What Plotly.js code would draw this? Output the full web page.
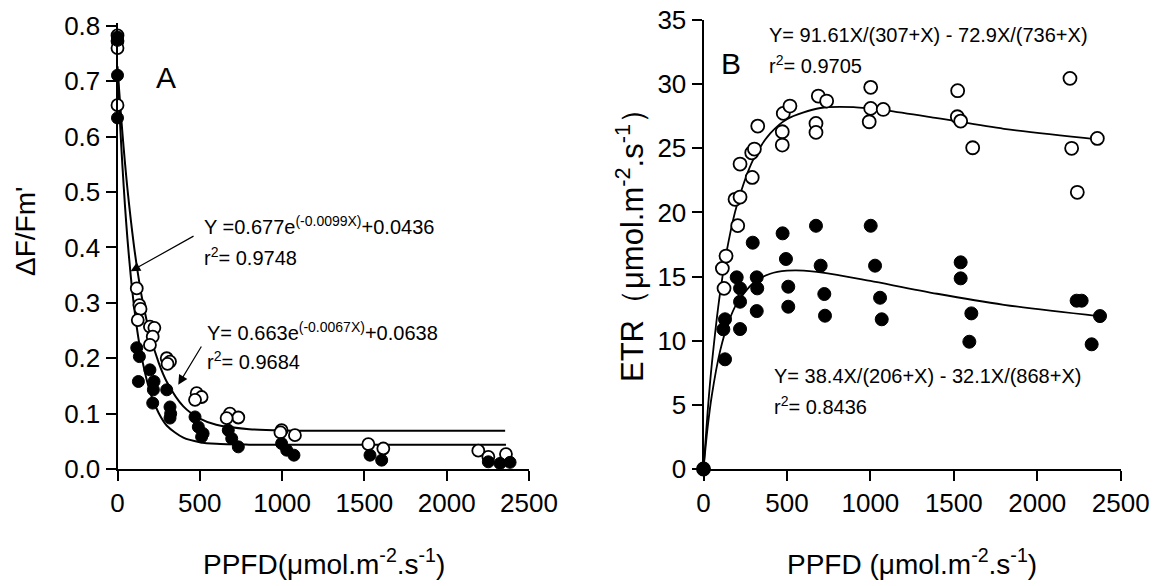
<!DOCTYPE html>
<html><head><meta charset="utf-8">
<script src="https://cdn.plot.ly/plotly-3.0.1.min.js"></script>
<style>html,body{margin:0;padding:0;background:#fff}#chart{width:1161px;height:586px}</style>
</head><body><div id="chart"></div>
<script>
// ---------- Panel A : deltaF/Fm' vs PPFD ----------
const aOpenX = [0,0,0,0, 117,133,140,123, 197,224,214,197, 299,319,304, 481,511,471, 683,734,663, 997,1078,990, 1524,1615, 2192,2253,2360];
const aOpenY = [0.783,0.773,0.76,0.657, 0.326,0.296,0.289,0.269, 0.257,0.255,0.239,0.224, 0.2,0.194,0.19, 0.137,0.13,0.125, 0.1,0.093,0.092, 0.07,0.061,0.066, 0.045,0.037, 0.033,0.022,0.027];
const aFillX = [0,0,0,0, 117,133,127, 197,222,218,214, 299,319,323,319, 471,491,511,520, 673,694,734, 997,1028,1072, 1534,1605, 2253,2324,2385];
const aFillY = [0.78,0.774,0.711,0.634, 0.219,0.203,0.158, 0.179,0.158,0.143,0.119, 0.143,0.112,0.1,0.092, 0.094,0.076,0.058,0.064, 0.07,0.055,0.04, 0.046,0.034,0.025, 0.025,0.016, 0.013,0.01,0.012];
// fitted curves
const aFitOpenX = [0,10,20,30,45,60,80,100,125,150,200,250,300,400,500,600,800,1000,1500,2355];
const aFitOpenY = [0.727,0.684,0.644,0.606,0.554,0.507,0.452,0.403,0.351,0.307,0.24,0.192,0.157,0.113,0.091,0.080,0.072,0.0695,0.069,0.069];
const aFitFillX = [0,10,20,30,45,60,80,100,125,150,200,250,300,400,500,600,800,1000,1500,2360];
const aFitFillY = [0.721,0.657,0.599,0.547,0.477,0.417,0.350,0.295,0.24,0.197,0.137,0.101,0.078,0.0565,0.0484,0.0454,0.044,0.0436,0.0436,0.0436];
const aTicksX = [0,500,1000,1500,2000,2500];
const aTicksY = [0,0.1,0.2,0.3,0.4,0.5,0.6,0.7,0.8];

// ---------- Panel B : ETR vs PPFD ----------
const bOpenX = [0, 113,123,135, 205,189,219,219, 292,289,305,325, 472,472,478,518, 688,738,674,674, 1002,1002,993,1077, 1523,1521,1541,1613, 2196,2206,2360,2240];
const bOpenY = [0, 15.64,14.08,16.6, 18.97,21.02,21.2,23.77, 22.73,24.65,24.94,26.73, 25.25,26.29,27.72,28.29, 29.07,28.68,26.94,26.24, 29.75,28.11,27.07,28.03, 29.49,27.46,27.12,25.04, 30.45,25.0,25.77,21.57];
const bFillX = [0, 129,119,129, 199,219,219,219, 295,319,322,319, 474,494,508,508, 674,702,724,728, 1002,1028,1058,1068, 1541,1541,1605,1593, 2236,2266,2376,2326];
const bFillY = [0, 11.67,10.89,8.55, 14.94,14.08,13.04,10.91, 17.64,14.94,14.08,12.31, 18.37,16.37,14.21,12.65, 18.96,15.85,13.64,11.95, 18.96,15.85,13.35,11.67, 16.11,14.86,12.13,9.92, 13.12,13.12,11.92,9.72];
const bFitOpenX = [0,25,50,100,150,200,300,400,500,700,900,1100,1400,1800,2360];
const bFitOpenY = [0,4.5,8.19,13.79,17.73,20.56,24.17,26.16,27.27,28.14,28.21,27.94,27.35,26.52,25.7];
const bFitFillX = [0,25,50,100,150,200,300,400,500,600,800,1000,1400,1800,2376];
const bFitFillY = [0,3.26,5.75,9.23,11.45,12.91,14.52,15.22,15.46,15.47,15.14,14.66,13.66,12.8,11.9];
const bTicksX = [0,500,1000,1500,2000,2500];
const bTicksY = [0,5,10,15,20,25,30,35];

// ---------- figure ----------
const W = 1161, H = 586;
const px = x => x / W, py = y => 1 - y / H;
const FONT = 'Liberation Sans, Arial, Helvetica, sans-serif';

const openMarkerA = {symbol:'circle', size:12, color:'#ffffff', line:{color:'#000', width:1.8}};
const fillMarkerA = {symbol:'circle', size:12, color:'#000000', line:{color:'#000', width:1}};
const openMarkerB = {symbol:'circle', size:13, color:'#ffffff', line:{color:'#000', width:1.8}};
const fillMarkerB = {symbol:'circle', size:13, color:'#000000', line:{color:'#000', width:1}};
const fitLine = {color:'#000', width:2, shape:'spline', smoothing:0.8};
const fitLineB = {color:'#000', width:1.8, shape:'spline', smoothing:0.8};

const traces = [
  {x:aFitOpenX, y:aFitOpenY, xaxis:'x', yaxis:'y', mode:'lines', line:fitLine, cliponaxis:false, hoverinfo:'skip'},
  {x:aFitFillX, y:aFitFillY, xaxis:'x', yaxis:'y', mode:'lines', line:fitLine, cliponaxis:false, hoverinfo:'skip'},
  {x:aOpenX, y:aOpenY, xaxis:'x', yaxis:'y', mode:'markers', marker:openMarkerA, cliponaxis:false},
  {x:aFillX, y:aFillY, xaxis:'x', yaxis:'y', mode:'markers', marker:fillMarkerA, cliponaxis:false},
  {x:bFitOpenX, y:bFitOpenY, xaxis:'x2', yaxis:'y2', mode:'lines', line:fitLineB, cliponaxis:false, hoverinfo:'skip'},
  {x:bFitFillX, y:bFitFillY, xaxis:'x2', yaxis:'y2', mode:'lines', line:fitLineB, cliponaxis:false, hoverinfo:'skip'},
  {x:bOpenX, y:bOpenY, xaxis:'x2', yaxis:'y2', mode:'markers', marker:openMarkerB, cliponaxis:false},
  {x:bFillX, y:bFillY, xaxis:'x2', yaxis:'y2', mode:'markers', marker:fillMarkerB, cliponaxis:false}
];

const axisStyle = {
  showline:true, linecolor:'#000', linewidth:2, showgrid:false, zeroline:false,
  ticks:'outside', ticklen:10, tickwidth:2, tickcolor:'#000',
  tickfont:{family:FONT, size:26, color:'#000'}, fixedrange:true
};

function txt(text, x, y, size, opts) {
  return Object.assign({text:text, xref:'paper', yref:'paper', x:px(x), y:py(y), showarrow:false,
    xanchor:'center', yanchor:'middle', font:{family:FONT, size:size, color:'#000'}}, opts || {});
}

const annotations = [
  txt('PPFD(μmol.m<sup>-2</sup>.s<sup>-1</sup>)', 324, 562, 28),
  txt('PPFD (μmol.m<sup>-2</sup>.s<sup>-1</sup>)', 912, 562, 28),
  txt('ΔF/Fm\'', 25, 232, 28, {textangle:-90}),
  txt('ETR（μmol.m<sup>-2</sup>.s<sup>-1</sup>）', 630, 238, 31, {textangle:-90}),
  txt('A', 166, 77, 30),
  txt('B', 731, 63, 30),
  txt('Y =0.677e<sup>(-0.0099X)</sup>+0.0436', 202, 226, 20, {xanchor:'left'}),
  txt('r<sup>2</sup>= 0.9748', 202, 256, 20, {xanchor:'left'}),
  txt('Y= 0.663e<sup>(-0.0067X)</sup>+0.0638', 205, 331, 20, {xanchor:'left'}),
  txt('r<sup>2</sup>= 0.9684', 205, 360, 20, {xanchor:'left'}),
  txt('Y= 91.61X/(307+X) - 72.9X/(736+X)', 767, 35, 20, {xanchor:'left'}),
  txt('r<sup>2</sup>= 0.9705', 767, 65, 20, {xanchor:'left'}),
  txt('Y= 38.4X/(206+X) - 32.1X/(868+X)', 772, 376, 20, {xanchor:'left'}),
  txt('r<sup>2</sup>= 0.8436', 772, 405, 20, {xanchor:'left'}),
  {text:'', xref:'x', yref:'y', axref:'x', ayref:'y', x:80, y:0.357, ax:471, ay:0.422,
   showarrow:true, arrowhead:2, arrowsize:1.6, arrowwidth:1.2, arrowcolor:'#000'},
  {text:'', xref:'x', yref:'y', axref:'x', ayref:'y', x:369, y:0.152, ax:515, ay:0.224,
   showarrow:true, arrowhead:2, arrowsize:1.6, arrowwidth:1.2, arrowcolor:'#000'}
];

const layout = {
  width:W, height:H, margin:{l:0, r:0, t:0, b:0}, showlegend:false,
  paper_bgcolor:'#ffffff', plot_bgcolor:'rgba(0,0,0,0)',
  font:{family:FONT, color:'#000'},
  xaxis:Object.assign({}, axisStyle, {domain:[px(117.5), px(529)], range:[0,2500], tickvals:aTicksX, anchor:'y'}),
  yaxis:Object.assign({}, axisStyle, {domain:[py(469), py(23.2)], range:[0,0.805], tickvals:aTicksY, tickformat:'.1f', anchor:'x'}),
  xaxis2:Object.assign({}, axisStyle, {domain:[px(703.5), px(1120.7)], range:[0,2500], tickvals:bTicksX, anchor:'y2'}),
  yaxis2:Object.assign({}, axisStyle, {domain:[py(469), py(20)], range:[0,35], tickvals:bTicksY, anchor:'x2'}),
  annotations:annotations
};

Plotly.newPlot('chart', traces, layout, {staticPlot:true, displayModeBar:false});
</script>
</body></html>
